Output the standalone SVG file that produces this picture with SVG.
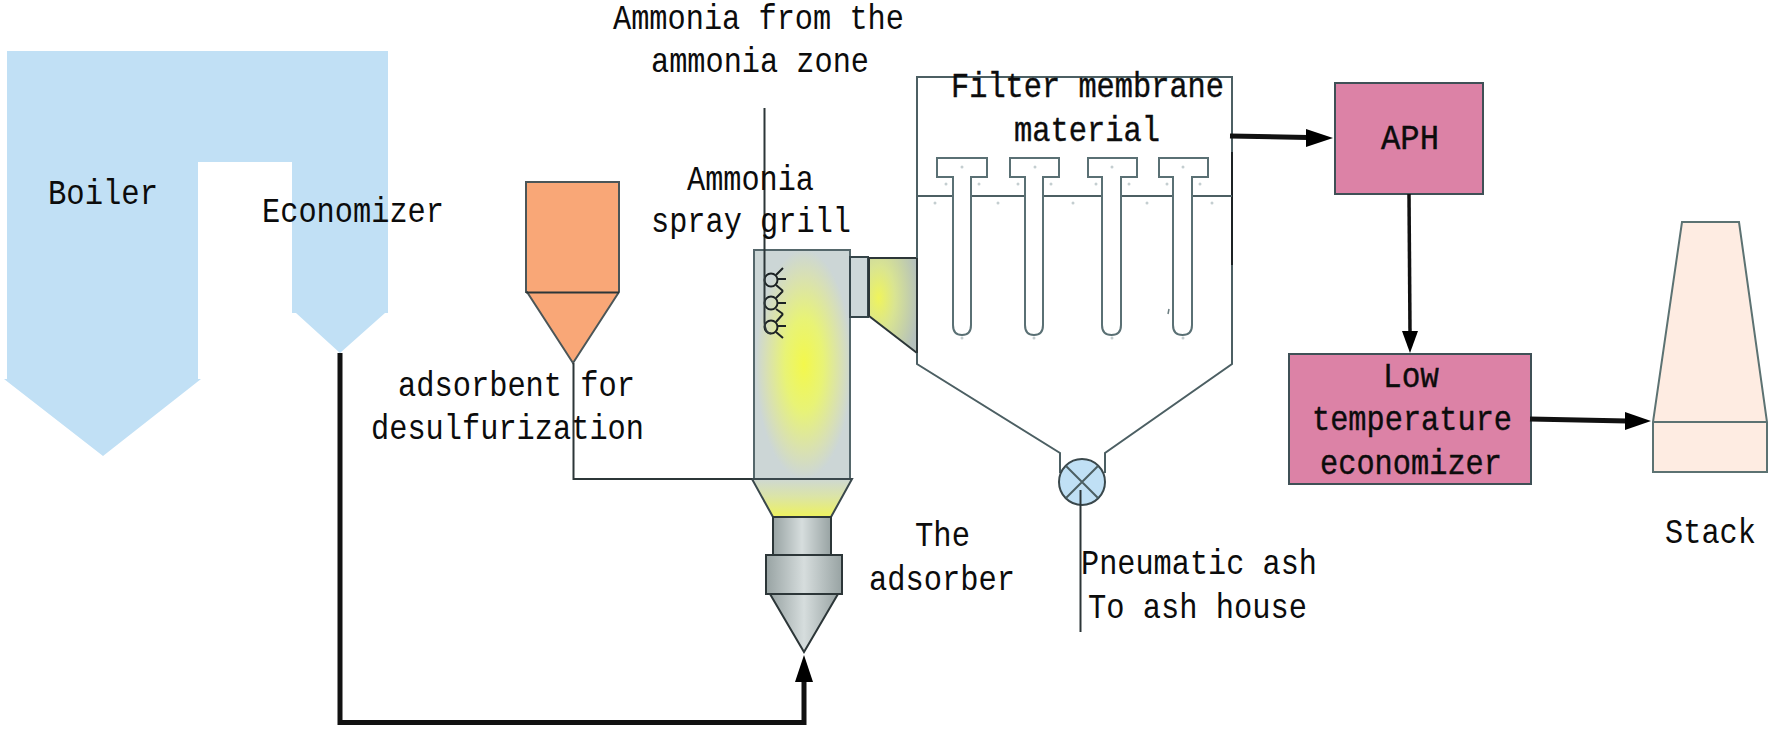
<svg xmlns="http://www.w3.org/2000/svg" width="1772" height="730" viewBox="0 0 1772 730">
<style>
text{font-family:"Liberation Mono","DejaVu Sans Mono",monospace;font-size:35px;fill:#0c0c0c}
.ln{fill:none;stroke:#4c5f63;stroke-width:2}
.dk{fill:none;stroke:#2c3638;stroke-width:2}
.pipe{fill:none;stroke:#111;stroke-width:5}
.head{fill:#000;stroke:none}
.box{fill:#dc82a6;stroke:#3f5056;stroke-width:2}
.stk{fill:#feece2;stroke:#5c7272;stroke-width:2}
.bag{fill:#fff;stroke:#5a7074;stroke-width:2}
.sp{fill:none;stroke:#1c2224;stroke-width:2}
.dot{fill:#c4ced0}
.hv{stroke:#0c0c0c;stroke-width:.4}
</style>
<defs>
<radialGradient id="gCol" cx=".52" cy=".5" r=".5"><stop offset="0" stop-color="#f3f84c"/><stop offset=".4" stop-color="#e8f376"/><stop offset=".78" stop-color="#d8e0b4"/><stop offset="1" stop-color="#ccd6d6"/></radialGradient>
<radialGradient id="gDuct" cx=".2" cy=".42" r=".85"><stop offset="0" stop-color="#eff45c"/><stop offset=".4" stop-color="#d9e492"/><stop offset="1" stop-color="#b4c0bc"/></radialGradient>
<linearGradient id="gFun" x1="0" y1="0" x2="0" y2="1"><stop offset="0" stop-color="#ced8d2"/><stop offset=".45" stop-color="#dbe4a8"/><stop offset="1" stop-color="#eef25e"/></linearGradient>
<linearGradient id="gMet"><stop offset="0" stop-color="#98a3a3"/><stop offset=".5" stop-color="#d6dddd"/><stop offset="1" stop-color="#98a3a3"/></linearGradient>
</defs>

<g id="boiler"><path d="M7 51H388V313H385L340 353L296 313H292V162H198V379H201L103 456L4 379H7Z" fill="#c1e0f5"/></g>

<g id="hopper">
<path d="M526 182H619V292L573 363L527 292H526Z" fill="#f9a777" stroke="#4b5658" stroke-width="2"/>
<path d="M526 292.500H619" class="dk"/>
</g>

<g id="adsorber">
<rect x="754" y="250" width="96" height="229" fill="url(#gCol)" stroke="#55676b" stroke-width="2"/>
<path d="M752 479H852L831 517H773Z" fill="url(#gFun)" stroke="#3a484c" stroke-width="2"/>
<rect x="773" y="517" width="58" height="38" fill="url(#gMet)" stroke="#2c3638" stroke-width="2"/>
<rect x="766" y="555" width="76" height="39" fill="url(#gMet)" stroke="#2c3638" stroke-width="2"/>
<path d="M770 594H838L804 652Z" fill="url(#gMet)" stroke="#2c3638" stroke-width="2"/>
</g>

<g id="spray-grill" class="sp">
<circle cx="771" cy="280" r="6.500"/><circle cx="771" cy="303" r="6.500"/><circle cx="771" cy="327" r="6.500"/>
<path d="M776 275L783 268M778 279H786M776 285L783 291M776 298L783 291M778 303H786M776 309L783 314M776 322L783 314M778 326H786M776 332L783 338"/>
</g>

<g id="duct">
<rect x="850" y="257" width="18" height="60" fill="#ced8da" stroke="#35454a" stroke-width="2"/>
<path d="M869 258H917V353L869 316Z" fill="url(#gDuct)" stroke="#2c3638" stroke-width="2"/>
</g>

<g id="filter">
<path d="M917 258V77H1232V364L1105 453V473M917 353V364L1060 453V473" class="ln"/>
<path d="M1232 152V265" stroke="#1c2224" stroke-width="2" fill="none"/>
<path d="M917 196H953M971 196H1025M1043 196H1102M1121 196H1173M1192 196H1232" class="ln"/>
<path class="bag" d="M937 158H987V177H971V325Q971 335 962 335Q953 335 953 325V177H937Z"/>
<path class="bag" d="M1010 158H1059V177H1043V325Q1043 335 1034 335Q1025 335 1025 325V177H1010Z"/>
<path class="bag" d="M1088 158H1137V177H1121V325Q1121 335 1111.500 335Q1102 335 1102 325V177H1088Z"/>
<path class="bag" d="M1159 158H1208V177H1192V325Q1192 335 1182.500 335Q1173 335 1173 325V177H1159Z"/>
<g class="dot">
<circle cx="962" cy="167" r="1.500"/><circle cx="1035" cy="167" r="1.500"/><circle cx="1112" cy="167" r="1.500"/><circle cx="1183" cy="167" r="1.500"/>
<circle cx="946" cy="184" r="1.500"/><circle cx="979" cy="184" r="1.500"/><circle cx="1018" cy="184" r="1.500"/><circle cx="1051" cy="184" r="1.500"/><circle cx="1096" cy="184" r="1.500"/><circle cx="1129" cy="184" r="1.500"/><circle cx="1167" cy="184" r="1.500"/><circle cx="1200" cy="184" r="1.500"/>
<circle cx="935" cy="203" r="1.500"/><circle cx="998" cy="203" r="1.500"/><circle cx="1073" cy="203" r="1.500"/><circle cx="1147" cy="203" r="1.500"/><circle cx="1212" cy="203" r="1.500"/>
<circle cx="962" cy="338" r="1.500"/><circle cx="1034" cy="338" r="1.500"/><circle cx="1112" cy="338" r="1.500"/><circle cx="1183" cy="338" r="1.500"/>
</g>
<path d="M1169 309L1168 314" stroke="#6a7c80" stroke-width="1.500" fill="none"/>
</g>

<g id="valve">
<circle cx="1082" cy="482" r="23" fill="#c0e0f5" stroke="#3a484c" stroke-width="2"/>
<path d="M1066 466L1098 498M1098 466L1066 498" class="ln"/>
</g>

<g id="aph"><rect class="box" x="1335" y="83" width="148" height="111"/></g>
<g id="low-temperature-economizer"><rect class="box" x="1289" y="354" width="242" height="130"/></g>
<g id="stack"><path class="stk" d="M1682 222H1739L1767 422V472H1653V422Z"/><path class="stk" d="M1653 422H1767" fill="none"/></g>

<g id="connectors">
<path class="pipe" d="M340 353V722.500H804V680"/>
<path class="head" d="M804 655L813 682H795Z"/>
<path class="dk" d="M573.500 363V479H752"/>
<path class="dk" d="M764.500 108V322Q764.500 333 771 333.500"/>
<path class="dk" d="M1080.500 490V632"/>
<path class="pipe" d="M1230 136L1308 137.500"/>
<path class="head" d="M1306 129L1333 138L1306 147Z"/>
<path d="M1409 194L1410 332" fill="none" stroke="#111" stroke-width="3.500"/>
<path class="head" d="M1402 331H1418L1410 353Z"/>
<path class="pipe" d="M1530 419L1627 421"/>
<path class="head" d="M1625 412L1651 421L1625 430Z"/>
</g>

<g id="labels">
<text x="613" y="29" textLength="291" lengthAdjust="spacingAndGlyphs">Ammonia from the</text>
<text x="651" y="72" textLength="218" lengthAdjust="spacingAndGlyphs">ammonia zone</text>
<text x="687" y="190" textLength="127" lengthAdjust="spacingAndGlyphs">Ammonia</text>
<text x="651" y="232" textLength="200" lengthAdjust="spacingAndGlyphs">spray grill</text>
<text x="398" y="396" textLength="237" lengthAdjust="spacingAndGlyphs">adsorbent for</text>
<text x="371" y="439" textLength="273" lengthAdjust="spacingAndGlyphs">desulfurization</text>
<text x="48" y="204" textLength="110" lengthAdjust="spacingAndGlyphs">Boiler</text>
<text x="262" y="222" textLength="182" lengthAdjust="spacingAndGlyphs">Economizer</text>
<text x="951" y="97" textLength="273" lengthAdjust="spacingAndGlyphs" class="hv">Filter membrane</text>
<text x="1014" y="141" textLength="146" lengthAdjust="spacingAndGlyphs" class="hv">material</text>
<text x="1381" y="149" textLength="58" lengthAdjust="spacingAndGlyphs" class="hv">APH</text>
<text x="1383" y="387" textLength="56" lengthAdjust="spacingAndGlyphs" class="hv">Low</text>
<text x="1312" y="430" textLength="200" lengthAdjust="spacingAndGlyphs" class="hv">temperature</text>
<text x="1320" y="474" textLength="182" lengthAdjust="spacingAndGlyphs" class="hv">economizer</text>
<text x="1665" y="543" textLength="91" lengthAdjust="spacingAndGlyphs">Stack</text>
<text x="915" y="546" textLength="55" lengthAdjust="spacingAndGlyphs">The</text>
<text x="869" y="590" textLength="146" lengthAdjust="spacingAndGlyphs">adsorber</text>
<text x="1081" y="574" textLength="236" lengthAdjust="spacingAndGlyphs">Pneumatic ash</text>
<text x="1088" y="618" textLength="219" lengthAdjust="spacingAndGlyphs">To ash house</text>
</g>
</svg>
